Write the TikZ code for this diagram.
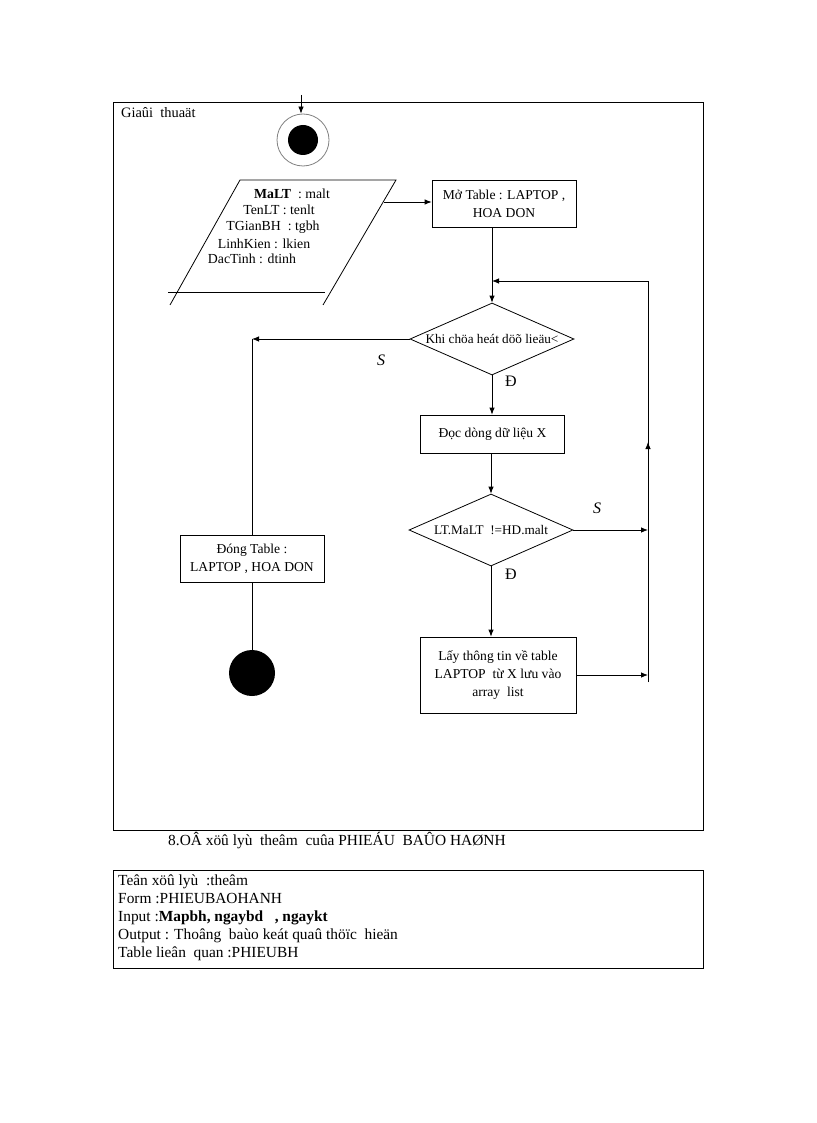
\documentclass[tikz,border=0pt]{standalone}
\usepackage{fontspec}
\setmainfont{Liberation Serif}
\usetikzlibrary{shapes.geometric,arrows.meta}

\tikzset{
  line/.style={draw, line width=0.8pt},
  arr/.style={line, -{Latex[length=7pt,width=5.5pt]}},
  stepbox/.style={line, rectangle, align=center, inner sep=2pt,
    font=\fontsize{13.6}{18}\selectfont},
  decide/.style={line, diamond, aspect=2.3, inner sep=0pt,
    minimum width=164pt, minimum height=72pt,
    font=\fontsize{13.2}{14}\selectfont},
  field/.style={inner sep=0pt, font=\fontsize{13.8}{14}\selectfont},
  answer/.style={inner sep=0pt, font=\fontsize{16}{17}\selectfont},
}

\begin{document}
\begin{tikzpicture}[x=1pt,y=-1pt]
  \useasboundingbox (0,0) rectangle (816,1123);

  % outer frame
  \draw[line] (113,102) rectangle (703,830);
  \node[anchor=west, inner sep=0pt, font=\fontsize{14.4}{15}\selectfont] (title) at (121,113) {Giaûi\ \ thuaät};

  % start
  \node[circle, draw=gray, line width=0.8pt, minimum size=52pt, inner sep=0pt] (start) at (303,140) {};
  \fill (start.center) circle (15);
  \coordinate (entry) at (301,95);
  \draw[arr] (entry) -- (entry |- start.north);

  % input data
  \draw[line] (170,305) -- (240,180) -- (396,180) -- (323,305);
  \draw[line] (168,292) -- (325,292);
  \node[field] (f1) at (292,194) {\textbf{MaLT}\ \ : malt};
  \node[field] (f2) at (279,210) {TenLT : tenlt};
  \node[field] (f3) at (273,227) {TGianBH\ \ : tgbh};
  \node[field] (f4) at (264,244) {LinhKien : lkien};
  \node[field] (f5) at (252,259) {DacTinh : dtinh};
  \coordinate (inR) at (384,202);

  % steps
  \node[stepbox, minimum width=144pt, minimum height=47pt] (mo) at (504,203.5) {Mở Table : LAPTOP ,\\HOA DON};
  \node[decide] (d1) at (492,339) {Khi chöa heát döõ lieäu<};
  \node[stepbox, minimum width=144pt, minimum height=38pt] (doc) at (492.5,434) {Đọc dòng dữ liệu X};
  \node[decide] (d2) at (491,530) {LT.MaLT\ \ !=HD.malt};
  \node[stepbox, minimum width=156pt, minimum height=76pt] (lay) at (498,675) {Lấy thông tin về table\\LAPTOP\ \ từ X lưu vào\\array\ \ list};
  \node[stepbox, minimum width=144pt, minimum height=47pt] (dong) at (252,558.5) {Đóng Table :\\LAPTOP , HOA DON};
  \node[circle, fill, minimum size=46pt, inner sep=0pt] (end) at (252,673) {};

  % connectors
  \draw[arr] (inR) -- (inR -| mo.west);
  \coordinate (loopin) at (492,281);
  \draw[arr] (d1.north |- mo.south) -- (d1.north);
  \draw[arr] (d1.south) -- (d1.south |- doc.north);
  \draw[arr] (doc.south -| d2.north) -- (d2.north);
  \draw[arr] (d2.south) -- (d2.south |- lay.north);

  % loop back
  \coordinate (loopB) at (648,682);
  \coordinate (loopR) at (648,281);
  \coordinate (loopmid) at (648,442);
  \draw[line] (loopB) -- (loopR);
  \draw[arr] (loopR) -- (loopin);
  \draw[arr] (loopB) -- (loopmid);
  \draw[arr] (d2.east) -- (d2.east -| loopB);
  \draw[arr] (lay.east) -- (lay.east -| loopB);

  % exit
  \coordinate (cornerL) at (d1.west -| dong.north);
  \draw[arr] (d1.west) -- (cornerL);
  \draw[line] (cornerL) -- (dong.north);
  \draw[line] (dong.south) -- (end.north);

  % answers
  \node[answer] (s1) at (381,360) {\itshape S};
  \node[answer] (s2) at (597,508) {\itshape S};
  \node[answer] (y1) at (511,381) {Đ};
  \node[answer] (y2) at (511,574) {Đ};

  % caption and table
  \node[anchor=west, inner sep=0pt, font=\fontsize{15.4}{17}\selectfont] (cap) at (168,841) {8.OÂ xöû lyù\ \ theâm\ \ cuûa PHIEÁU\ \ BAÛO HAØNH};
  \draw[line] (113,870) rectangle (703,968);
  \node[anchor=north west, align=left, inner sep=0pt, font=\fontsize{15.4}{18}\selectfont] (info) at (118,875)
    {Teân xöû lyù\ \ :theâm\\
     Form :PHIEUBAOHANH\\
     Input :\textbf{Mapbh, ngaybd\ \ \ , ngaykt}\\
     Output : Thoâng\ \ baùo keát quaû thöïc\ \ hieän\\
     Table lieân\ \ quan :PHIEUBH};

\end{tikzpicture}
\end{document}
